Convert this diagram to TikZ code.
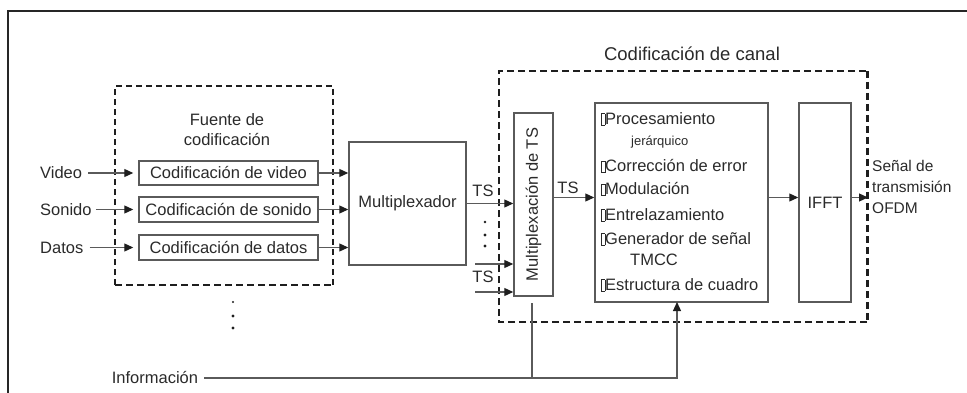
\documentclass[tikz,border=0pt]{standalone}
\usepackage{fontspec}
\setmainfont{Liberation Sans}
\usetikzlibrary{arrows.meta}
\definecolor{ln}{HTML}{5A5A5A}
\definecolor{tx}{HTML}{2A2A2A}
\definecolor{dk}{HTML}{1E1E1E}
\newcommand\bxg{{\fboxsep0pt\fboxrule0.7pt\fbox{\rule[-1pt]{0pt}{11pt}\hspace{2.6pt}}}}
\begin{document}
\begin{tikzpicture}[x=1pt,y=-1pt,
  box/.style={draw=ln, line width=1.5pt, inner sep=0pt, text=tx, font=\fontsize{16.5}{18}\selectfont},
  lbl/.style={text=tx, font=\fontsize{16.5}{18}\selectfont, inner sep=0pt},
  small/.style={text=tx, font=\fontsize{13}{14}\selectfont, inner sep=0pt},
  arr/.style={draw=ln, line width=1.2pt, -{Triangle[length=9pt,width=8pt,color=dk]}},
  wire/.style={draw=ln, line width=1.2pt},
  dashthin/.style={draw=dk, line width=1.5pt, dash pattern=on 6pt off 4pt},
  dashthick/.style={draw=dk, line width=2.2pt, dash pattern=on 7pt off 4pt},
  dotf/.style={fill=dk, draw=none, circle, inner sep=0pt, minimum size=3.4pt}
]
\useasboundingbox (0,0) rectangle (967,393);
% outer frame
\draw[line width=2.8pt, draw=black!85] (8,393) -- (8,11) -- (967,11);

% Fuente de codificacion dashed box
\draw[dashthin] (115,285) -- (115,86) -- (333,86) -- (333,285);
\draw[dashthick, line width=2.6pt] (115,285) -- (333,285);
\node[lbl, align=center] (fuente) at (227,130) {Fuente de\\[2pt]codificación};

% coder boxes
\node[box, minimum width=179pt, minimum height=24pt] (cv) at (228.5,173) {Codificación de video};
\node[box, minimum width=179pt, minimum height=25pt] (cs) at (228.5,209.5) {Codificación de sonido};
\node[box, minimum width=179pt, minimum height=25pt] (cd) at (228.5,247.5) {Codificación de datos};

% inputs
\node[lbl, anchor=west] (vid) at (40,173) {Video};
\node[lbl, anchor=west] (son) at (40,209.5) {Sonido};
\node[lbl, anchor=west] (dat) at (40,247.5) {Datos};
\draw[arr, shorten <=6pt, shorten >=5pt] (vid.east) -- (vid -| cv.west);
\draw[arr, shorten <=4pt, shorten >=5pt] (son.east) -- (son -| cs.west);
\draw[arr, shorten <=6pt, shorten >=5pt] (dat.east) -- (dat -| cd.west);

% multiplexador
\node[box, minimum width=117pt, minimum height=123pt] (mux) at (407.5,203.5) {Multiplexador};
\draw[arr] (cv.east) -- (cv.east -| mux.west);
\draw[arr] (cs.east) -- (cs.east -| mux.west);
\draw[arr] (cd.east) -- (cd.east -| mux.west);

% dots below fuente
\node[dotf, minimum size=2.4pt] (d1) at (233,302) {};
\node[dotf] (d2) at (233,316) {};
\node[dotf] (d3) at (233,328) {};

% channel coding dashed box
\draw[dashthick] (867,322) -- (499,322) -- (499,71) -- (867,71);
\draw[dashthick, line width=3pt] (867,71) -- (867,322);
\node[lbl, font=\fontsize{18.5}{20}\selectfont] (canal) at (692,54) {Codificación de canal};

% TS multiplexing
\node[box, minimum width=39pt, minimum height=183pt] (tsm) at (533.5,204.5) {};
\node[lbl, rotate=90] (tsmt) at (tsm.center) {Multiplexación de TS};

\coordinate (ts2s) at (475,264);
\coordinate (ts3s) at (475,292);
\draw[arr] (mux.east) -- (mux.east -| tsm.west);
\draw[arr] (ts2s) -- (ts2s -| tsm.west);
\draw[arr] (ts3s) -- (ts3s -| tsm.west);
\node[lbl] (tsa) at (483,191) {TS};
\node[lbl] (tsb) at (483,277) {TS};
\node[dotf, minimum size=2.6pt] (e1) at (485,222) {};
\node[dotf] (e2) at (485,235) {};
\node[dotf] (e3) at (485,246) {};

% processing box
\node[box, minimum width=173pt, minimum height=199pt] (proc) at (681.5,202.5) {};
\node[lbl, anchor=west] (p1) at (601,119) {\bxg Procesamiento};
\node[small, anchor=west] (p2) at (631,142) {jerárquico};
\node[lbl, anchor=west] (p3) at (601,166) {\bxg Corrección de error};
\node[lbl, anchor=west] (p4) at (601,189) {\bxg Modulación};
\node[lbl, anchor=west] (p5) at (601,215) {\bxg Entrelazamiento};
\node[lbl, anchor=west] (p6) at (601,239) {\bxg Generador de señal};
\node[lbl, anchor=west] (p7) at (630,260) {TMCC};
\node[lbl, anchor=west] (p8) at (601,285) {\bxg Estructura de cuadro};

\draw[arr] ([yshift=7pt]tsm.east) -- ([yshift=7pt]tsm.east -| proc.west);
\node[lbl] (tsc) at (568,188) {TS};

% IFFT
\node[box, minimum width=52pt, minimum height=199pt] (ifft) at (825,202.5) {IFFT};
\draw[arr] ([yshift=5pt]proc.east) -- ([yshift=5pt]proc.east -| ifft.west);
\coordinate (outp) at (868,197.5);
\draw[arr] ([yshift=5pt]ifft.east) -- (outp);
\node[lbl, anchor=north west, align=left, font=\fontsize{15.5}{21}\selectfont] (senal) at (872,160) {Señal de\\transmisión\\OFDM};

% Informacion
\node[lbl] (info) at (155,378) {Información};
\coordinate (pa) at (677,302);
\coordinate (tb) at (532,303);
\draw[arr, shorten <=6pt] (info.east) -- (info.east -| pa) -- (pa);
\draw[wire] (info.east -| tb) -- (tb);
\end{tikzpicture}
\end{document}
